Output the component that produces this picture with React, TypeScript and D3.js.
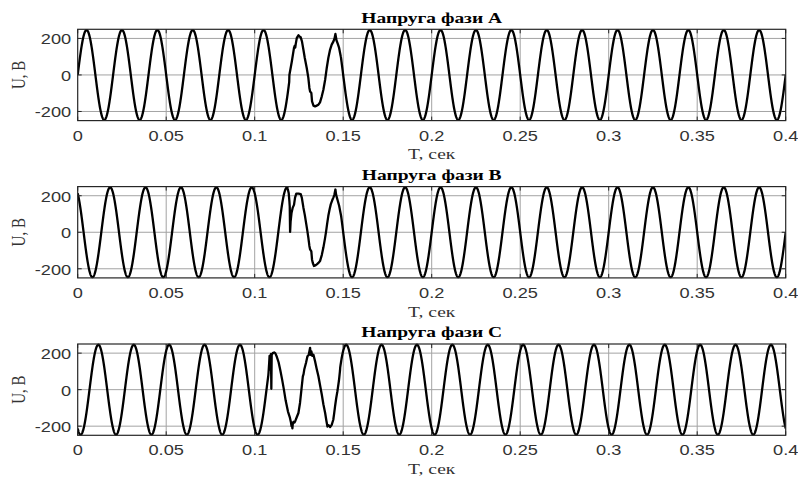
import React from "react";
import * as d3 from "d3";

// ---- data ----
const PHASE_NAMES = ["A", "B", "C"];
const T_MAX = 0.4;
const Y_LIMIT = 250;
const AMPLITUDE = 246; // V
const FREQUENCY = 50; // Hz
const PHASE_BEFORE_DEG = [0, 120, 240];
const PHASE_AFTER_DEG = [0, 0, 240];
const X_TICKS = [0, 0.05, 0.1, 0.15, 0.2, 0.25, 0.3, 0.35, 0.4];
const X_TICK_LABELS = ["0", "0.05", "0.1", "0.15", "0.2", "0.25", "0.3", "0.35", "0.4"];
const Y_TICKS = [-200, 0, 200];
const Y_TICK_LABELS = ["-200", "0", "200"];

// distorted segments [t, U]
const FAULT_A: [number, number][] = [
  [0.1196, 0], [0.121, 75], [0.1222, 148], [0.1226, 160], [0.1229, 150], [0.1232, 170],
  [0.1238, 203], [0.1247, 217], [0.1253, 210], [0.126, 206], [0.1267, 184], [0.1275, 139],
  [0.1283, 93], [0.1294, 38], [0.1303, -16], [0.1309, -71], [0.1313, -91], [0.132, -99],
  [0.1324, -145], [0.1332, -168], [0.1341, -172], [0.135, -168], [0.136, -163], [0.1369, -150],
  [0.1379, -117], [0.1388, -81], [0.1398, -26], [0.1407, 38], [0.1416, 93], [0.1426, 139],
  [0.1435, 166], [0.1445, 184], [0.1451, 200], [0.1456, 225], [0.1462, 190], [0.1469, 172],
  [0.1477, 148], [0.1486, 102],
];
const FAULT_B: [number, number][] = [
  [0.1186, 240], [0.1192, 215], [0.1196, 170], [0.1198, 140], [0.12, 2], [0.1203, 60],
  [0.1208, 105], [0.1215, 135], [0.1222, 150], [0.1228, 190], [0.1235, 212], [0.1248, 212],
  [0.126, 209], [0.1266, 190], [0.1275, 136], [0.1283, 95], [0.129, 53], [0.1297, 10],
  [0.1303, -29], [0.1309, -75], [0.1313, -94], [0.132, -105], [0.1324, -150], [0.1328, -167],
  [0.1335, -185], [0.1345, -180], [0.1351, -176], [0.136, -168], [0.1369, -158], [0.1379, -125],
  [0.1388, -84], [0.1397, -35], [0.1403, 2], [0.1409, 45], [0.1416, 90], [0.1423, 125],
  [0.143, 154], [0.1438, 175], [0.1445, 191], [0.145, 205], [0.1456, 234], [0.146, 205],
  [0.1464, 191], [0.147, 170], [0.1477, 145], [0.1488, 90],
];
const FAULT_C: [number, number][] = [
  [0.1078, 90], [0.1082, 150], [0.1084, 185], [0.1086, 110], [0.1089, 185], [0.1092, 195],
  [0.1094, 5], [0.1096, 190], [0.1102, 200], [0.111, 204], [0.1116, 200], [0.1125, 180],
  [0.1135, 150], [0.1145, 105], [0.1155, 55], [0.1165, 0], [0.1175, -60], [0.1188, -120],
  [0.1198, -150], [0.1205, -180], [0.1208, -200], [0.121, -185], [0.1213, -212], [0.1216, -180],
  [0.122, -176], [0.1225, -180], [0.123, -170], [0.1238, -150], [0.1247, -128], [0.1256, -73],
  [0.1264, 0], [0.1272, 73], [0.1276, 85], [0.128, 110], [0.129, 147], [0.1298, 183],
  [0.1305, 190], [0.131, 215], [0.1313, 229], [0.1316, 190], [0.132, 210], [0.1325, 185],
  [0.1332, 191], [0.1341, 156], [0.135, 115], [0.136, 73], [0.137, 20], [0.1379, -27],
  [0.1388, -80], [0.1398, -128], [0.1405, -170], [0.1411, -202], [0.1418, -195], [0.1426, -205],
  [0.1435, -193], [0.1444, -165], [0.1449, -130], [0.1454, -92], [0.146, -50], [0.1464, -27],
  [0.1467, -10], [0.147, 10], [0.1476, 50], [0.1482, 105],
];
const FAULTS = [FAULT_A, FAULT_B, FAULT_C];

// ---- layout ----
const W = 798;
const H = 478;
const LEFT = 77.7;
const RIGHT = 785.7;
const TOPS = [29.3, 186.6, 344];
const PLOT_H = 91.3;
const SX = 1.3; // horizontal stretch of the picture's text

function sine(t: number, deg: number) {
  return AMPLITUDE * Math.sin(2 * Math.PI * FREQUENCY * t + (deg * Math.PI) / 180);
}

function buildSeries(i: number): [number, number][] {
  const fault = FAULTS[i];
  const start = fault[0][0];
  const end = fault[fault.length - 1][0];
  const pts: [number, number][] = [];
  const step = 0.0001;
  for (let t = 0; t < start; t += step) pts.push([t, sine(t, PHASE_BEFORE_DEG[i])]);
  fault.forEach((p) => pts.push(p));
  for (let t = end + step; t <= T_MAX + 1e-9; t += step) pts.push([t, sine(t, PHASE_AFTER_DEG[i])]);
  return pts;
}

const x = d3.scaleLinear().domain([0, T_MAX]).range([LEFT, RIGHT]);

function Panel({ i }: { i: number }) {
  const top = TOPS[i];
  const y = d3.scaleLinear().domain([-Y_LIMIT, Y_LIMIT]).range([top + PLOT_H, top]);
  const line = d3
    .line<[number, number]>()
    .x((d) => x(d[0]))
    .y((d) => y(d[1]));
  const data = buildSeries(i);
  const grid = "#a3a3a3";
  const axisCol = "#262626";
  const tickLen = 4;
  const cx = (LEFT + RIGHT) / 2;
  return (
    <g>
      <defs>
        <clipPath id={`clip${i}`}>
          <rect x={LEFT} y={top - 1.5} width={RIGHT - LEFT} height={PLOT_H + 3} />
        </clipPath>
      </defs>
      {X_TICKS.slice(1, -1).map((t) => (
        <line key={"gx" + t} x1={x(t)} x2={x(t)} y1={top} y2={top + PLOT_H} stroke={grid} strokeWidth={1} />
      ))}
      {Y_TICKS.map((v) => (
        <line key={"gy" + v} x1={LEFT} x2={RIGHT} y1={y(v)} y2={y(v)} stroke={grid} strokeWidth={1} />
      ))}
      <path d={line(data) || ""} fill="none" stroke="#000" strokeWidth={2.3} strokeLinejoin="round" clipPath={`url(#clip${i})`} />
      <rect x={LEFT} y={top} width={RIGHT - LEFT} height={PLOT_H} fill="none" stroke={axisCol} strokeWidth={1.2} />
      {X_TICKS.map((t) => (
        <g key={"tx" + t}>
          <line x1={x(t)} x2={x(t)} y1={top + PLOT_H} y2={top + PLOT_H - tickLen} stroke={axisCol} />
          <line x1={x(t)} x2={x(t)} y1={top} y2={top + tickLen} stroke={axisCol} />
        </g>
      ))}
      {Y_TICKS.map((v) => (
        <g key={"ty" + v}>
          <line x1={LEFT} x2={LEFT + tickLen} y1={y(v)} y2={y(v)} stroke={axisCol} />
          <line x1={RIGHT} x2={RIGHT - tickLen} y1={y(v)} y2={y(v)} stroke={axisCol} />
        </g>
      ))}
      {X_TICKS.map((t, k) => (
        <text
          key={"lx" + t}
          transform={`translate(${x(t)},${top + PLOT_H + 20}) scale(${SX},1)`}
          textAnchor="middle"
          fontFamily="'Liberation Sans', Arial, sans-serif"
          fontSize={14}
          fill="#333"
        >
          {X_TICK_LABELS[k]}
        </text>
      ))}
      {Y_TICKS.map((v, k) => (
        <text
          key={"ly" + v}
          transform={`translate(${LEFT - 6.5},${y(v) + 6}) scale(${SX},1)`}
          textAnchor="end"
          fontFamily="'Liberation Sans', Arial, sans-serif"
          fontSize={14}
          fill="#333"
        >
          {Y_TICK_LABELS[k]}
        </text>
      ))}
      <text
        transform={`translate(${cx},${top - 6.6}) scale(${SX},1)`}
        textAnchor="middle"
        fontFamily="'Liberation Serif', 'Times New Roman', serif"
        fontWeight="bold"
        fontSize={15}
        fill="#000"
      >
        {`Напруга фази ${PHASE_NAMES[i]}`}
      </text>
      <text
        transform={`translate(${cx},${top + PLOT_H + 38.6}) scale(${SX},1)`}
        textAnchor="middle"
        fontFamily="'Liberation Serif', 'Times New Roman', serif"
        fontSize={15}
        fill="#333"
      >
        T, сек
      </text>
      <text
        transform={`translate(24.5,${top + PLOT_H / 2}) scale(${SX},1) rotate(-90)`}
        textAnchor="middle"
        fontFamily="'Liberation Serif', 'Times New Roman', serif"
        fontSize={15}
        fill="#333"
      >
        U, B
      </text>
    </g>
  );
}

export default function App() {
  return (
    <div style={{ position: "absolute", left: 0, top: 0, width: W, height: H, background: "#fff" }}>
      <svg width={W} height={H} viewBox={`0 0 ${W} ${H}`} style={{ display: "block" }}>
        <rect width={W} height={H} fill="#fff" />
        {PHASE_NAMES.map((_, i) => (
          <Panel key={i} i={i} />
        ))}
      </svg>
    </div>
  );
}
